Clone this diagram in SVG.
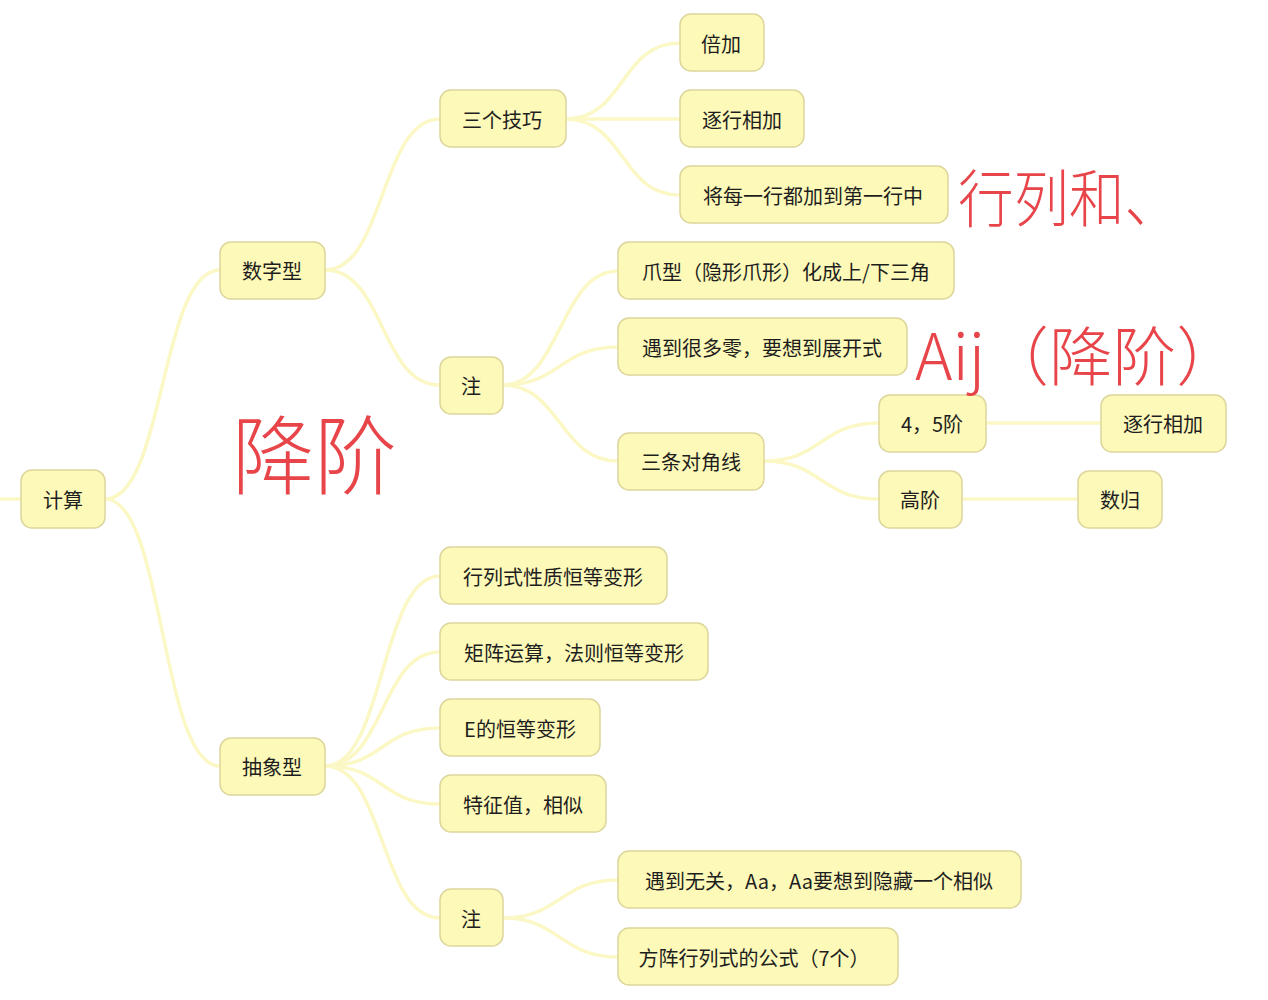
<svg xmlns="http://www.w3.org/2000/svg" width="1268" height="1000" viewBox="0 0 1268 1000">
<style>
.n rect{fill:#fdf9b8;stroke:#ddd69c;stroke-width:1.5}
.n text{font-family:"Noto Sans CJK SC","Noto Sans",sans-serif;font-size:20px;fill:#1e1e1e;dominant-baseline:central;text-anchor:middle}
.c path{fill:none;stroke:#fbf8c6;stroke-width:3.5;stroke-linecap:round}
.h{font-family:"Noto Sans CJK SC",sans-serif;fill:#e8454a;font-weight:300}
</style>
<rect width="1268" height="1000" fill="#ffffff"/>
<g class="c">
<path d="M0,499 H21"/>
<path d="M105,499 C165,499 160,270 220,270"/>
<path d="M105,499 C165,499 160,766 220,766"/>
<path d="M325,270 C385,270 380,119 440,119"/>
<path d="M325,270 C385,270 380,385 440,385"/>
<path d="M566,119 C625,119 620,43 680,43"/>
<path d="M566,119 H680"/>
<path d="M566,119 C625,119 620,195 680,195"/>
<path d="M503,385 C560,385 560,271 618,271"/>
<path d="M503,385 C560,385 560,347 618,347"/>
<path d="M503,385 C560,385 560,461 618,461"/>
<path d="M764,461 C822,461 820,423 879,423"/>
<path d="M764,461 C822,461 820,499 879,499"/>
<path d="M986,423 H1101"/>
<path d="M962,499 H1078"/>
<path d="M325,766 C385,766 380,576 440,576"/>
<path d="M325,766 C385,766 380,652 440,652"/>
<path d="M325,766 C385,766 380,728 440,728"/>
<path d="M325,766 C385,766 380,804 440,804"/>
<path d="M325,766 C385,766 380,918 440,918"/>
<path d="M503,918 C560,918 560,880 618,880"/>
<path d="M503,918 C560,918 560,957 618,957"/>
</g>
<g id="n-jisuan" class="n"><rect x="21" y="470" width="84" height="58" rx="11"/><text x="63" y="499">计算</text></g>
<g id="n-shuzixing" class="n"><rect x="220" y="242" width="105" height="57" rx="11"/><text x="272" y="270">数字型</text></g>
<g id="n-chouxiangxing" class="n"><rect x="220" y="738" width="105" height="57" rx="11"/><text x="272" y="766">抽象型</text></g>
<g id="n-sangejiqiao" class="n"><rect x="440" y="90" width="126" height="57" rx="11"/><text x="502" y="119">三个技巧</text></g>
<g id="n-zhu1" class="n"><rect x="440" y="357" width="63" height="57" rx="11"/><text x="471" y="385">注</text></g>
<g id="n-beijia" class="n"><rect x="680" y="14" width="84" height="57" rx="11"/><text x="721" y="43">倍加</text></g>
<g id="n-zhuhang1" class="n"><rect x="680" y="90" width="124" height="57" rx="11"/><text x="742" y="119">逐行相加</text></g>
<g id="n-jiangmei" class="n"><rect x="680" y="166" width="268" height="57" rx="11"/><text x="813" y="195">将每一行都加到第一行中</text></g>
<g id="n-zhuaxing" class="n"><rect x="618" y="242" width="336" height="57" rx="11"/><text x="786" y="271">爪型（隐形爪形）化成上/下三角</text></g>
<g id="n-yudao" class="n"><rect x="618" y="318" width="289" height="57" rx="11"/><text x="762" y="347">遇到很多零，要想到展开式</text></g>
<g id="n-santiao" class="n"><rect x="618" y="433" width="146" height="57" rx="11"/><text x="691" y="461">三条对角线</text></g>
<g id="n-45jie" class="n"><rect x="879" y="395" width="107" height="57" rx="11"/><text x="932" y="423">4，5阶</text></g>
<g id="n-zhuhang2" class="n"><rect x="1101" y="395" width="125" height="57" rx="11"/><text x="1163" y="423">逐行相加</text></g>
<g id="n-gaojie" class="n"><rect x="879" y="471" width="83" height="57" rx="11"/><text x="920" y="499">高阶</text></g>
<g id="n-shugui" class="n"><rect x="1078" y="471" width="84" height="57" rx="11"/><text x="1120" y="499">数归</text></g>
<g id="n-hanglieshi" class="n"><rect x="440" y="547" width="227" height="57" rx="11"/><text x="553" y="576">行列式性质恒等变形</text></g>
<g id="n-juzhen" class="n"><rect x="440" y="623" width="268" height="57" rx="11"/><text x="574" y="652">矩阵运算，法则恒等变形</text></g>
<g id="n-E" class="n"><rect x="440" y="699" width="160" height="57" rx="11"/><text x="520" y="728">E的恒等变形</text></g>
<g id="n-tezheng" class="n"><rect x="440" y="775" width="166" height="57" rx="11"/><text x="523" y="804">特征值，相似</text></g>
<g id="n-zhu2" class="n"><rect x="440" y="889" width="63" height="57" rx="11"/><text x="471" y="918">注</text></g>
<g id="n-wuguan" class="n"><rect x="618" y="851" width="403" height="57" rx="11"/><text x="819" y="880">遇到无关，Aa，Aa要想到隐藏一个相似</text></g>
<g id="n-fangzhen" class="n"><rect x="618" y="928" width="280" height="57" rx="11"/><text x="754" y="957">方阵行列式的公式（7个）</text></g>
<g id="annotations">
<text class="h" x="958" y="222" font-size="62" textLength="222" lengthAdjust="spacingAndGlyphs">行列和、</text>
<text class="h" x="915" y="380" font-size="64" textLength="325" lengthAdjust="spacingAndGlyphs">Aij（降阶）</text>
<text class="h" x="232" y="488" font-size="86" textLength="165" lengthAdjust="spacingAndGlyphs">降阶</text>
</g>
</svg>
